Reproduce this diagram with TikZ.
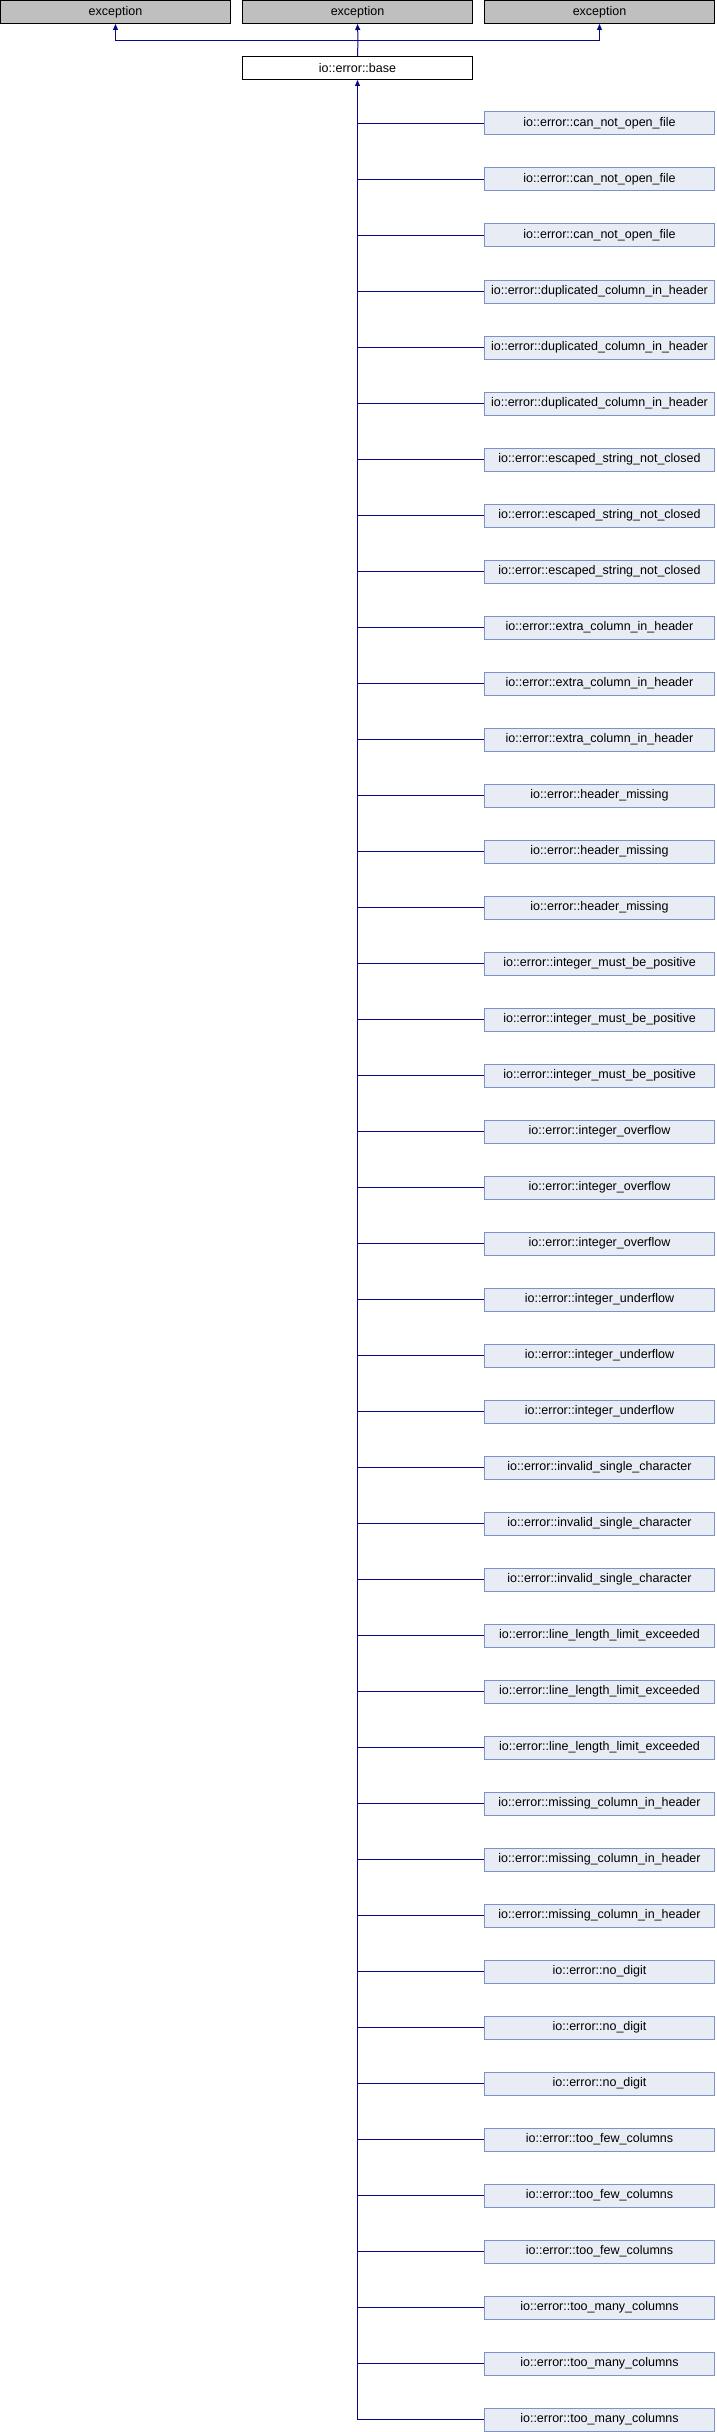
\documentclass[tikz,border=0pt]{standalone}
\usepackage{fontspec}
\setmainfont{Liberation Sans}
\usetikzlibrary{arrows.meta}
\definecolor{edgecol}{RGB}{8,8,135}
\definecolor{childfill}{RGB}{232,236,245}
\definecolor{childdraw}{RGB}{122,147,200}
\definecolor{extfill}{RGB}{191,191,191}
\begin{document}
\begin{tikzpicture}[x=1pt,y=-1pt,
  box/.style={draw, line width=1pt, minimum width=230pt, minimum height=23pt, inner sep=0pt,
    font=\fontsize{12.5}{14}\selectfont},
  extbox/.style={box, fill=extfill, draw=black},
  basebox/.style={box, fill=white, draw=black},
  childbox/.style={box, fill=childfill, draw=childdraw},
  conn/.style={draw=edgecol, line width=1pt},
  tip/.style={-{Triangle[width=5pt,length=6pt]}}]
\useasboundingbox (0,0) rectangle (716,2432);
\node[extbox] (e1) at (115.5,12) {exception};
\node[extbox] (e2) at (357.5,12) {exception};
\node[extbox] (e3) at (599.5,12) {exception};
\node[basebox] (base) at (357.5,68) {io::error::base};
\coordinate (j) at (358,40.5);
\draw[conn] (base.north) -- (j);
\draw[conn,tip] (j) -- (e2.south);
\draw[conn,tip] (j) -| (e1.south);
\draw[conn,tip] (j) -| (e3.south);
\foreach \n [count=\k from 0] in {can\_not\_open\_file,duplicated\_column\_in\_header,escaped\_string\_not\_closed,extra\_column\_in\_header,header\_missing,integer\_must\_be\_positive,integer\_overflow,integer\_underflow,invalid\_single\_character,line\_length\_limit\_exceeded,missing\_column\_in\_header,no\_digit,too\_few\_columns,too\_many\_columns}{
  \foreach \r in {0,1,2}{
    \pgfmathtruncatemacro\i{3*\k+\r}
    \node[childbox] (c\i) at (599.5,123.5+56*\i) {io::error::\n};
    \draw[conn] (base.south |- c\i.west) -- (c\i.west);
  }
}
\draw[conn,tip] (base.south |- c41.west) -- (base.south);
\end{tikzpicture}
\end{document}
